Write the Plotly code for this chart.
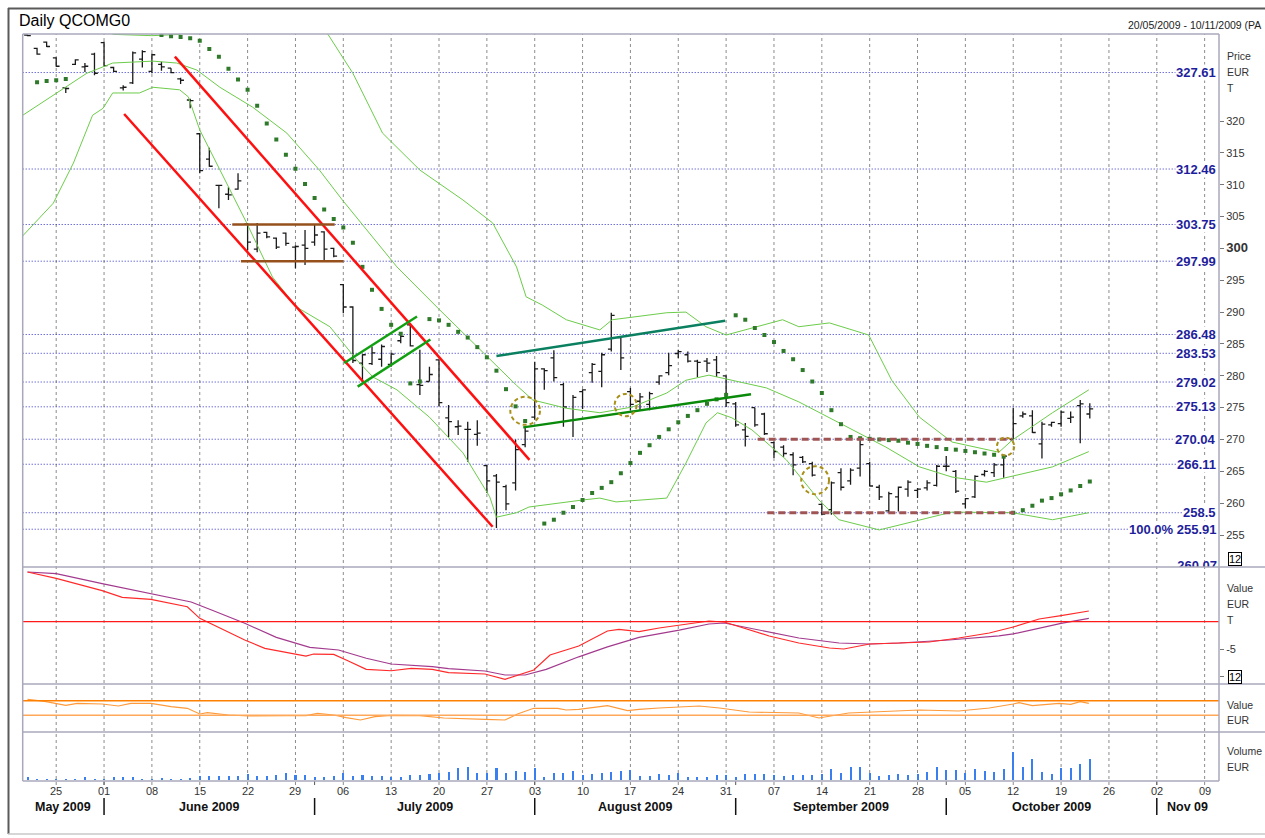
import pandas as pd
import plotly.graph_objects as go

W, H = 1265, 838

# ---------------- data ----------------
DATES = pd.bdate_range("2009-05-20", "2009-11-10")  # trading-day axis, 125 days

OPEN = [333.5,331.4,332.4,329.9,325.2,328.9,328.5,330.5,332.3,328.4,
        325.2,326.0,329.7,327.8,328.9,328.3,326.6,323.3,318.0,314.0,
        309.9,308.5,309.3,303.8,299.9,302.5,301.6,302.4,300.2,300.5,
        301.0,302.6,300.0,294.3,290.8,282.0,281.9,282.6,281.8,285.5,
        288.0,278.6,279.1,282.5,273.4,272.0,271.6,270.8,265.9,264.3,
        262.6,263.2,269.2,273.5,281.1,282.8,278.6,273.0,277.5,280.5,
        280.7,284.2,286.0,277.5,276.0,275.5,279.0,280.5,283.5,283.3,
        282.3,282.3,282.5,280.0,275.6,271.5,275.0,274.0,269.5,268.8,
        267.6,267.2,266.2,259.8,259.0,264.8,263.5,265.5,266.2,262.5,
        258.8,261.0,262.2,262.0,262.4,262.8,265.8,265.0,259.9,261.0,
        264.5,264.8,266.0,270.0,273.7,273.7,269.3,272.3,272.5,273.3,
        275.3,274.0]
HIGH = [333.6,331.5,332.5,330.0,325.3,329.7,329.1,330.7,332.5,328.5,
        325.6,330.9,331.1,330.6,329.3,328.3,326.8,323.5,318.1,315.8,
        310.0,309.6,311.8,304.0,304.0,302.6,301.7,302.5,300.5,302.9,
        303.7,302.7,300.1,294.4,290.9,283.4,284.6,284.9,283.6,286.4,
        288.3,284.1,281.4,282.6,275.4,273.0,272.8,273.0,266.0,264.6,
        262.9,270.0,271.8,282.2,281.2,284.0,278.9,277.0,277.9,282.0,
        283.6,289.9,286.1,278.1,277.3,277.5,280.1,283.6,284.1,283.8,
        282.5,282.8,283.1,280.1,275.9,272.6,275.0,274.2,269.7,269.1,
        268.0,267.4,266.5,260.0,263.4,265.5,265.5,270.0,266.5,262.9,
        261.8,262.6,263.6,262.4,263.6,266.0,267.4,265.2,260.8,264.4,
        265.2,266.3,267.6,275.0,274.4,274.6,272.8,272.8,274.5,274.4,
        276.2,275.7]
LOW = [333.3,330.4,331.6,328.5,324.4,328.8,327.7,327.2,328.5,327.7,
       324.8,325.8,328.4,327.5,327.9,327.5,325.8,322.0,311.8,312.8,
       306.3,307.6,309.2,299.7,299.4,301.6,299.9,300.4,296.9,297.4,
       300.4,297.9,298.6,289.8,282.0,279.1,281.7,281.4,281.4,285.1,
       284.6,277.0,279.1,275.2,270.4,270.7,266.5,269.0,261.6,256.1,
       258.9,262.0,268.8,273.1,277.8,279.1,272.0,270.4,274.8,278.9,
       278.2,283.8,280.9,274.6,274.6,274.6,278.6,280.1,282.8,282.1,
       279.8,280.6,279.8,275.1,272.0,268.9,272.0,270.7,267.1,267.3,
       264.4,266.3,264.2,258.1,258.2,262.0,262.9,264.2,262.6,260.5,
       258.5,258.7,261.0,260.8,262.0,262.6,265.0,261.6,259.2,260.8,
       264.2,264.1,264.0,270.0,273.4,271.0,267.0,272.0,272.0,272.6,
       269.4,273.3]
CLOSE = [333.4,330.5,331.7,328.6,325.1,329.6,328.6,327.5,328.7,327.8,
         325.3,330.7,330.9,330.4,328.5,327.6,326.4,323.2,312.2,312.9,
         309.9,308.4,310.6,301.0,302.4,301.8,300.2,300.8,300.3,300.0,
         302.1,299.9,298.8,290.8,282.4,283.3,283.6,284.6,283.4,286.2,
         284.7,278.5,280.2,275.8,272.8,272.1,271.6,271.0,263.5,263.3,
         259.9,268.4,271.3,281.1,280.8,279.7,275.1,276.6,277.8,281.8,
         283.3,289.5,282.8,275.5,276.7,277.2,280.0,281.6,283.8,282.3,
         282.1,282.0,280.5,275.8,272.3,270.5,272.3,270.9,268.1,267.8,
         266.0,266.5,264.4,258.3,263.2,262.5,265.2,269.2,262.7,261.0,
         261.5,262.5,263.3,262.2,263.2,265.8,265.8,261.9,260.7,264.2,
         265.0,266.0,267.4,272.5,274.0,271.1,272.4,272.7,274.3,273.5,
         275.6,274.8]
VOLUME = [27,10,10,10,10,10,27,10,10,27,27,27,10,10,25,10,10,25,43,40,
          40,40,40,60,40,40,50,67,50,50,33,33,37,67,43,53,43,43,33,33,
          50,53,60,70,77,117,127,67,67,117,67,87,77,117,33,70,70,93,50,60,
          70,83,93,100,40,40,57,50,73,33,27,27,50,50,27,63,57,57,50,40,
          47,47,47,57,107,73,127,127,67,40,50,57,50,57,77,133,97,97,67,107,
          90,83,107,283,127,207,83,60,117,117,157,207]

# Bollinger bands (sampled along the drawn curves: bar index, price)
UPPER_X = [0, 4, 8, 9, 13, 16, 19, 24, 28, 31.4, 34, 37.1, 41, 45.5, 48.6, 51.1, 52.1, 53.8,
           56.3, 59.8, 61.1, 66.8, 68.8, 70.9, 73, 78.9, 80.6, 83.8, 87.9, 90.3, 93.2, 96.6,
           101.5, 102.9, 107.1, 110.9]
UPPER_Y = [340.5, 337.0, 334.2, 333.6, 333.4, 333.6, 337.0, 341.0, 338.5, 333.6, 327.5, 318.1,
           312.3, 307.6, 304.0, 297.1, 292.4, 291.1, 288.8, 287.2, 288.8, 289.9, 290.0, 287.7,
           286.4, 288.8, 287.7, 288.3, 286.4, 279.3, 273.5, 269.6, 268.0, 269.9, 274.2, 277.8]
MID_X = [-0.6, 2.7, 6.2, 8.9, 13.1, 15.6, 17.7, 20.1, 23.5, 27.1, 30.5, 32.9, 38.6, 43.1, 48,
         51.1, 52.8, 56.3, 59.8, 63.2, 66.8, 68.8, 71.2, 73.6, 77.2, 80.6, 86.2, 89.7, 93.2,
         96.6, 100.2, 102.6, 107.1, 110.9]
MID_Y = [320.8, 324.1, 327.5, 329.1, 329.4, 329.1, 328.0, 325.3, 322.2, 318.1, 312.3, 307.6,
         297.1, 290.3, 283.0, 278.5, 276.2, 274.9, 274.2, 275.1, 277.3, 279.3, 280.1, 279.3,
         278.1, 275.9, 271.5, 268.8, 265.7, 264.1, 263.3, 264.1, 265.7, 268.1]
LOWB_X = [-0.6, 2.7, 4.8, 6.8, 7.9, 8.9, 11.7, 13.1, 15.9, 16.8, 18, 20.1, 22.9, 25.6, 28.1,
          31.6, 34.4, 36.1, 38.6, 42, 45.5, 48.3, 49, 51.1, 52.4, 58, 59.8, 61.5, 66.8, 68.8,
          70.9, 72.1, 73.6, 75.7, 79.3, 82.7, 84.8, 89, 93.2, 96.6, 102.9, 107.1, 110.9]
LOWB_Y = [301.8, 307.1, 313.4, 320.9, 322.0, 324.4, 324.4, 325.3, 324.9, 323.8, 318.6, 312.3,
          304.0, 295.5, 290.8, 287.7, 282.5, 279.8, 277.8, 273.5, 267.9, 261.0, 257.8, 258.5,
          259.4, 260.5, 260.8, 260.2, 260.8, 266.3, 272.6, 274.2, 273.4, 271.5, 266.8, 260.5,
          257.4, 255.8, 257.4, 258.6, 258.5, 257.4, 258.5]

# Parabolic SAR dots (bar index, price)
SAR_X = [1, 2, 3, 4] + list(range(14, 42)) + list(range(42, 53)) + list(range(54, 74)) \
        + list(range(74, 103)) + list(range(103, 112))
SAR_Y = [326.1, 326.3, 326.4, 326.6,
         333.5, 333.3, 333.2, 333.0, 332.6, 331.3, 330.1, 328.2, 326.5, 324.9, 322.4, 319.6,
         317.1, 314.7, 312.5, 310.1, 307.9, 306.1, 304.6, 303.3, 300.9, 297.1, 293.5, 290.5,
         288.0, 286.6, 278.8, 279.1,
         288.9, 288.7, 288.0, 286.9, 286.0, 284.5, 282.9, 280.8, 277.9, 275.2, 272.9,
         256.8, 257.4, 258.5, 259.4, 260.5, 261.6, 262.4, 263.3, 264.7, 266.3, 267.9, 269.1,
         270.4, 271.6, 272.7, 273.7, 274.6, 275.6, 276.3, 277.0,
         289.5, 288.8, 287.5, 286.4, 285.3, 283.9, 282.6, 280.9, 279.1, 277.3, 274.6, 272.4,
         270.4, 270.2, 270.1, 270.0, 269.9, 269.8, 269.5, 269.3, 269.0, 268.8, 268.5, 268.4,
         268.2, 268.0, 267.8, 267.6, 267.3,
         258.5, 258.9, 259.6, 260.4, 260.8, 261.4, 262.0, 262.7, 263.4]

# MACD panel
MACD_X = [0, 3, 7.8, 9.9, 12.9, 16.7, 18, 20.1, 22.7, 24.8, 27.8, 29.1, 29.9, 32, 33.3, 35.4,
          38, 40.1, 42.3, 44, 47.8, 49.9, 52.9, 54.6, 57.6, 60.6, 61.8, 63.9, 66, 69.2, 71.2,
          72.8, 74.9, 77.5, 80.6, 83.8, 85.3, 88, 91.1, 94.2, 97.3, 100.5, 103, 105.7, 108, 110.9]
MACD_Y = [9.1, 7.95, 5.68, 4.46, 4.1, 2.75, 0.62, -1.21, -3.35, -4.88, -5.92, -6.29, -5.92,
          -5.98, -7.02, -8.72, -8.98, -8.53, -8.72, -9.34, -9.58, -10.55, -8.85, -6.10, -4.45,
          -1.70, -1.39, -1.81, -1.15, -0.42, 0.13, -0.05, -1.15, -2.61, -3.90, -4.82, -5.0,
          -4.08, -3.90, -3.72, -2.98, -2.07, -0.97, 0.49, 1.1, 1.96]
SIGNAL_X = [0, 3, 7.8, 12.9, 17.1, 19.3, 22.7, 26, 29.5, 32.5, 35.4, 38, 42.3, 44, 47.8, 49.9,
            52, 54.2, 57.6, 60.6, 63.9, 68.1, 71.2, 72.8, 76.5, 80.6, 84.8, 88, 91.1, 96.3,
            101.5, 103, 108, 110.9]
SIGNAL_Y = [9.1, 8.81, 6.98, 5.15, 3.61, 2.09, -0.29, -2.86, -4.69, -5.18, -6.70, -7.75, -8.24,
            -8.61, -9.03, -9.76, -9.76, -8.72, -6.43, -4.60, -2.86, -1.54, -0.42, -0.24, -1.52,
            -2.98, -3.90, -4.08, -3.90, -3.35, -2.59, -2.23, -0.30, 0.62]

# Oscillator panel
OSC_X = [0, 1.8, 4.0, 5.2, 7.8, 9.5, 10.8, 12.9, 15.0, 16.7, 18.0, 18.8, 21.0, 23.1, 26.9, 29.1,
         30.3, 32.0, 33.3, 34.8, 36.3, 38.0, 41.0, 43.5, 47.8, 49.9, 51.2, 52.9, 55.4, 56.3, 57.6,
         60.6, 62.7, 63.9, 66.0, 70.2, 72.3, 75.4, 80.6, 82.7, 85.8, 89.0, 93.2, 97.3, 100.5,
         103.0, 103.6, 105.0, 107.8, 109.0, 110.0, 110.9]
OSC_Y = [73.8, 68.4, 57.4, 62.9, 61.0, 55.5, 62.9, 62.9, 53.6, 49.2, 33.6, 37.1, 30.8, 28.1,
         28.9, 28.9, 35.5, 30.8, 23.4, 17.1, 26.2, 30.0, 28.9, 22.6, 19.0, 17.1, 33.6, 49.2,
         49.2, 44.5, 46.4, 56.3, 42.6, 46.4, 50.0, 55.5, 50.0, 39.0, 36.3, 22.6, 36.3, 39.0,
         44.5, 41.8, 50.0, 61.0, 64.5, 56.3, 62.9, 60.1, 67.3, 62.9]
OSC_LEVELS = [70, 30]

LEVELS = [327.61, 312.46, 303.75, 297.99, 286.48, 283.53, 279.02, 275.13, 270.04, 266.11, 258.5, 255.91]
LEVEL_LABELS = ["327.61", "312.46", "303.75", "297.99", "286.48", "283.53", "279.02", "275.13",
                "270.04", "266.11", "258.5", "100.0% 255.91"]
PRICE_TICKS = list(range(255, 325, 5))
MONTH_LABELS = ["May 2009", "June 2009", "July 2009", "August 2009", "September 2009",
                "October 2009", "Nov 09"]

# drawn studies (bar index, price) pairs
RED_CHANNEL = [(15.4, 330.1, 52.45, 266.8), (10.1, 321.1, 48.6, 256.3)]
BOX_LINES = [(21.4, 303.75, 32.1, 303.75), (22.3, 297.99, 33.0, 297.99)]
FLAG_LINES = [(33.1, 282.0, 40.7, 289.3), (34.5, 278.3, 42.1, 285.7)]
TEAL_LINE = (49.0, 283.1, 72.9, 288.65)
GREEN_LINE = (51.8, 271.9, 75.6, 277.1)
RANGE_LINES = [(76.3, 270.04, 102.9, 270.04), (77.3, 258.5, 103.1, 258.5)]
CIRCLES = [(52.0, 274.5, 1.55, 2.2), (62.5, 275.4, 1.15, 1.75),
           (82.3, 263.6, 1.45, 2.2), (102.2, 268.9, 0.9, 1.4)]

# ---------------- layout helpers ----------------
def px(x):
    return x / W


def py(y):
    return 1 - y / H


X_LEFT, X_RIGHT = 22.7, 1219.0
X_RANGE = [-0.5, len(DATES) - 0.5]
BAR_PX = (X_RIGHT - X_LEFT) / (X_RANGE[1] - X_RANGE[0])


def xi(pxx):
    return X_RANGE[0] + (pxx - X_LEFT) / BAR_PX


FONT = "Liberation Sans"
idx = list(range(len(OPEN)))

fig = go.Figure()

fig.add_trace(go.Ohlc(x=idx, open=OPEN, high=HIGH, low=LOW, close=CLOSE,
                      increasing=dict(line=dict(color="#1a1a1a", width=1.3)),
                      decreasing=dict(line=dict(color="#1a1a1a", width=1.3)),
                      tickwidth=0.35, xaxis="x", yaxis="y", hoverinfo="skip"))

for bx, by in [(UPPER_X, UPPER_Y), (MID_X, MID_Y), (LOWB_X, LOWB_Y)]:
    fig.add_trace(go.Scatter(x=bx, y=by, mode="lines", line=dict(color="#6ccc4a", width=1),
                             xaxis="x", yaxis="y", hoverinfo="skip"))

fig.add_trace(go.Scatter(x=SAR_X, y=SAR_Y, mode="markers",
                         marker=dict(symbol="square", size=4, color="#2f7a2a"),
                         xaxis="x", yaxis="y", hoverinfo="skip"))

# last-value diamonds on the price scale
dx = xi(1223.5)
for val, col in [(UPPER_Y[-1], "#3fcc22"), (MID_Y[-1], "#3fcc22"), (SAR_Y[-1], "#2d6e1e"),
                 (LOWB_Y[-1], "#3fcc22"), (CLOSE[-1], "#000000")]:
    fig.add_trace(go.Scatter(x=[dx], y=[val], mode="markers", cliponaxis=False,
                             marker=dict(symbol="diamond", size=9, color=col),
                             xaxis="x", yaxis="y", hoverinfo="skip"))

# clipped label at the bottom of the price panel
fig.add_trace(go.Scatter(x=[xi(1217)], y=[250.05], mode="text", text=["<b>260.07</b>"],
                         textposition="middle left", cliponaxis=True,
                         textfont=dict(family=FONT, size=13, color="#1e1e9c"),
                         xaxis="x", yaxis="y", hoverinfo="skip"))

# MACD
fig.add_trace(go.Scatter(x=SIGNAL_X, y=SIGNAL_Y, mode="lines", line=dict(color="#a33a8e", width=1.2),
                         xaxis="x", yaxis="y2", hoverinfo="skip"))
fig.add_trace(go.Scatter(x=MACD_X, y=MACD_Y, mode="lines", line=dict(color="#ff2a2a", width=1.2),
                         xaxis="x", yaxis="y2", hoverinfo="skip"))

# oscillator
fig.add_trace(go.Scatter(x=OSC_X, y=OSC_Y, mode="lines", line=dict(color="#ff9a3a", width=1.2),
                         xaxis="x", yaxis="y3", hoverinfo="skip"))

# volume
fig.add_trace(go.Bar(x=idx, y=VOLUME, width=0.16, marker=dict(color="#3a7ff0", line=dict(width=0)),
                     xaxis="x", yaxis="y4", hoverinfo="skip"))

shapes = []
annotations = []

# weekly grid lines
mondays = [i for i, d in enumerate(DATES) if d.weekday() == 0]
for i in mondays:
    shapes.append(dict(type="line", xref="x", yref="paper", x0=i, x1=i, y0=py(785), y1=py(34),
                       line=dict(color="#8c8c8c", width=1, dash="3px,3px"), layer="below"))
    annotations.append(dict(xref="x", yref="paper", x=i, y=py(791), text=DATES[i].strftime("%d"),
                            showarrow=False, xanchor="center", yanchor="middle",
                            font=dict(family=FONT, size=11, color="#333")))

# month separators and labels
bounds = [i for i in range(1, len(DATES)) if DATES[i].month != DATES[i - 1].month]
edges = [X_RANGE[0]] + bounds + [X_RANGE[1]]
for k, name in enumerate(MONTH_LABELS):
    annotations.append(dict(xref="x", yref="paper", x=(edges[k] + edges[k + 1]) / 2, y=py(807),
                            text="<b>%s</b>" % name, showarrow=False, xanchor="center",
                            yanchor="middle", font=dict(family=FONT, size=12.5, color="#111")))
for b in bounds:
    shapes.append(dict(type="line", xref="x", yref="paper", x0=b, x1=b, y0=py(815), y1=py(798),
                       line=dict(color="#111", width=1.5)))
    shapes.append(dict(type="line", xref="x", yref="paper", x0=b, x1=b, y0=py(785), y1=py(781),
                       line=dict(color="#555", width=1)))

# level lines + labels
for lv, lab in zip(LEVELS, LEVEL_LABELS):
    shapes.append(dict(type="line", xref="paper", yref="y", x0=px(X_LEFT), x1=px(1215), y0=lv, y1=lv,
                       line=dict(color="#3030c8", width=1, dash="1px,2px"), layer="below"))
    annotations.append(dict(xref="paper", yref="y", x=px(1217), y=lv, text="<b>%s</b>" % lab,
                            showarrow=False, xanchor="right", yanchor="middle", bgcolor="white",
                            borderpad=0, font=dict(family=FONT, size=13, color="#1e1e9c")))

# drawn studies
def seg(c, color, width, dash=None):
    line = dict(color=color, width=width)
    if dash:
        line["dash"] = dash
    return dict(type="line", xref="x", yref="y", x0=c[0], y0=c[1], x1=c[2], y1=c[3], line=line)


for c in RED_CHANNEL:
    shapes.append(seg(c, "#ff1010", 2.5))
for c in BOX_LINES:
    shapes.append(seg(c, "#96501c", 2.5))
for c in FLAG_LINES:
    shapes.append(seg(c, "#12a012", 2.5))
shapes.append(seg(TEAL_LINE, "#0a8060", 2.5))
shapes.append(seg(GREEN_LINE, "#0a8a0a", 2.5))
for c in RANGE_LINES:
    shapes.append(seg(c, "#a05555", 3, "7px,4px"))
for cx, cy, rx, ry in CIRCLES:
    shapes.append(dict(type="circle", xref="x", yref="y", x0=cx - rx, x1=cx + rx, y0=cy - ry, y1=cy + ry,
                       line=dict(color="#a89018", width=2, dash="4px,3px")))

# zero line MACD, oscillator levels
shapes.append(dict(type="line", xref="paper", yref="y2", x0=px(X_LEFT), x1=px(X_RIGHT), y0=0, y1=0,
                   line=dict(color="#ff1a1a", width=1.2)))
for lv, col in zip(OSC_LEVELS, ["#ff8000", "#ffa85a"]):
    shapes.append(dict(type="line", xref="paper", yref="y3", x0=px(X_LEFT), x1=px(X_RIGHT), y0=lv, y1=lv,
                       line=dict(color=col, width=1.5)))

# panel frames
frame = "#a8a8bc"
for yy, xr in [(34, X_RIGHT), (567, W), (684, W), (732, W), (781, X_RIGHT)]:
    shapes.append(dict(type="line", xref="paper", yref="paper", x0=px(X_LEFT), x1=px(xr),
                       y0=py(yy), y1=py(yy), line=dict(color=frame, width=1.5)))
for xx in [X_LEFT, X_RIGHT]:
    shapes.append(dict(type="line", xref="paper", yref="paper", x0=px(xx), x1=px(xx),
                       y0=py(781), y1=py(34), line=dict(color=frame, width=1.5)))
# outer frame
shapes.append(dict(type="line", xref="paper", yref="paper", x0=px(8), x1=1, y0=py(8.5), y1=py(8.5),
                   line=dict(color="#5a5a5a", width=2)))
shapes.append(dict(type="line", xref="paper", yref="paper", x0=px(8.5), x1=px(8.5), y0=py(834), y1=py(8),
                   line=dict(color="#5a5a5a", width=2)))
shapes.append(dict(type="line", xref="paper", yref="paper", x0=px(8), x1=1, y0=py(834), y1=py(834),
                   line=dict(color="#c8c8c8", width=1.5)))

# texts
def txt(x, y, s, size=11, color="#333", anchor="left", **kw):
    d = dict(xref="paper", yref="paper", x=px(x), y=py(y), text=s, showarrow=False,
             xanchor=anchor, yanchor="middle", font=dict(family=FONT, size=size, color=color))
    d.update(kw)
    annotations.append(d)


txt(17, 20, "Daily QCOMG0", size=16, color="#000")
txt(1126, 25, "20/05/2009 - 10/11/2009 (PA", size=10.5, color="#222")
for y, s in [(56, "Price"), (72, "EUR"), (88, "T"), (588, "Value"), (604, "EUR"), (620, "T"),
             (705, "Value"), (720, "EUR"), (751, "Volume"), (767, "EUR")]:
    txt(1225, y, s, size=10.5, color="#333")
txt(1235, 558.5, "12", size=11, color="#000", anchor="center", bordercolor="#000",
    borderwidth=1, borderpad=0)
txt(1235, 676.5, "12", size=11, color="#000", anchor="center", bordercolor="#000",
    borderwidth=1, borderpad=0)

tick_text = ["<span style='font-size:13px'><b>300</b></span>" if t == 300 else str(t) for t in PRICE_TICKS]

fig.update_layout(
    width=W, height=H, margin=dict(l=0, r=0, t=0, b=0),
    paper_bgcolor="white", plot_bgcolor="rgba(0,0,0,0)",
    showlegend=False, hovermode=False, bargap=0,
    shapes=shapes, annotations=annotations,
    xaxis=dict(domain=[px(X_LEFT), px(X_RIGHT)], range=X_RANGE, anchor="y4",
               showticklabels=False, showgrid=False, zeroline=False, showline=False,
               ticks="", rangeslider=dict(visible=False), fixedrange=True),
    yaxis=dict(domain=[py(567), py(34)], range=[249.98, 333.66], side="right", anchor="x",
               tickvals=PRICE_TICKS, ticktext=tick_text, ticks="outside", ticklen=4,
               tickcolor="#777", tickfont=dict(family=FONT, size=11, color="#333"),
               showgrid=False, zeroline=False, showline=False, fixedrange=True),
    yaxis2=dict(domain=[py(684), py(567)], range=[-11.41, 10.02], side="right", anchor="x",
                tickvals=[-5, -9.95], ticktext=["-5", ""], ticks="outside", ticklen=4,
                tickcolor="#777", tickfont=dict(family=FONT, size=11, color="#333"),
                showgrid=False, zeroline=False, showline=False, fixedrange=True),
    yaxis3=dict(domain=[py(732), py(684)], range=[-15.8, 115.8], side="right", anchor="x",
                showticklabels=False, ticks="", showgrid=False, zeroline=False, showline=False,
                fixedrange=True),
    yaxis4=dict(domain=[py(781), py(732)], range=[-10, 480], side="right", anchor="x",
                showticklabels=False, ticks="", showgrid=False, zeroline=False, showline=False,
                fixedrange=True),
)

fig.write_html("out.html", config={"displayModeBar": False},
               post_script="document.body.style.margin='0px';document.body.style.overflow='hidden';")
